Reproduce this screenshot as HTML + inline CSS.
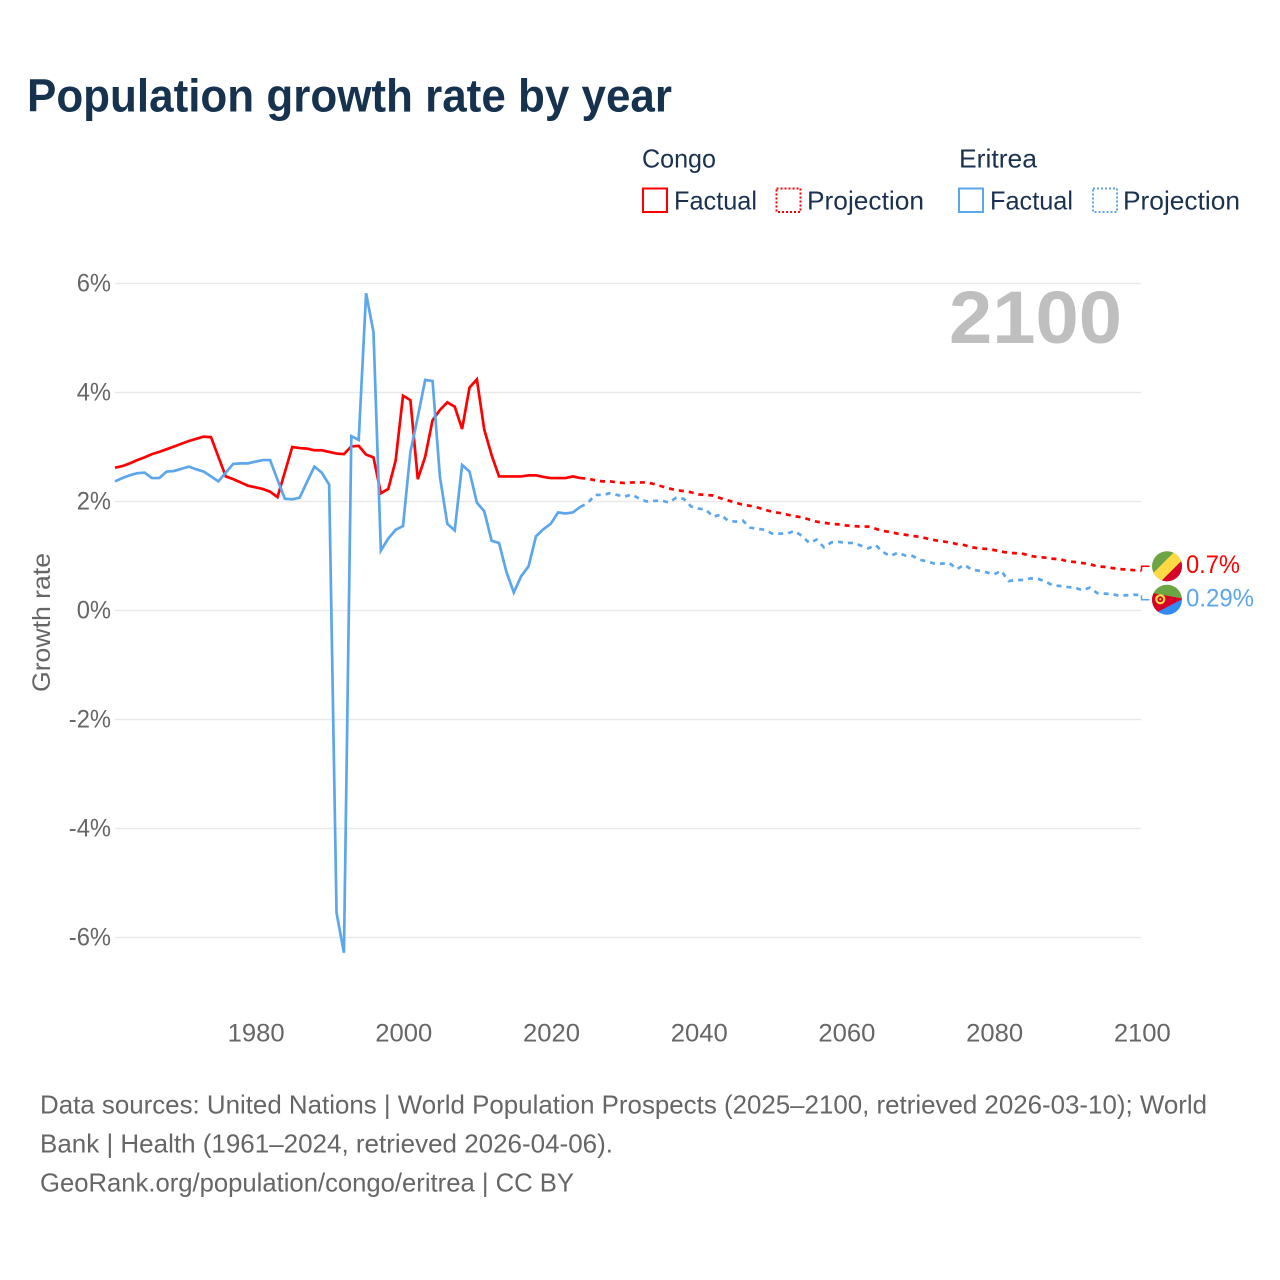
<!DOCTYPE html>
<html lang="en">
<head>
<meta charset="utf-8">
<title>Population growth rate by year</title>
<style>
html,body{margin:0;padding:0;background:#fff;}
svg{display:block;font-family:"Liberation Sans",sans-serif;}
</style>
</head>
<body>
<svg id="chart" xmlns="http://www.w3.org/2000/svg" width="1280" height="1280" viewBox="0 0 1280 1280">
  <rect width="1280" height="1280" fill="#ffffff"/>
  <text x="27" y="111.5" font-size="46" font-weight="700" fill="#17324f" textLength="645" lengthAdjust="spacingAndGlyphs">Population growth rate by year</text>

  <g font-size="26" fill="#1a3150">
    <text x="642" y="167.5" textLength="74" lengthAdjust="spacingAndGlyphs">Congo</text>
    <text x="959" y="167.5" textLength="78" lengthAdjust="spacingAndGlyphs">Eritrea</text>
    <g>
      <rect x="643" y="188.5" width="24" height="23.5" fill="none" stroke="#ff0000" stroke-width="2"/>
      <text x="674" y="209.5" textLength="83" lengthAdjust="spacingAndGlyphs">Factual</text>
    </g>
    <g>
      <rect x="776.5" y="188.5" width="24" height="23.5" fill="none" stroke="#ff0000" stroke-width="2" stroke-dasharray="2 2"/>
      <text x="807" y="209.5" textLength="117" lengthAdjust="spacingAndGlyphs">Projection</text>
    </g>
    <g>
      <rect x="959" y="188.5" width="24" height="23.5" fill="none" stroke="#5ca6ec" stroke-width="2"/>
      <text x="990" y="209.5" textLength="83" lengthAdjust="spacingAndGlyphs">Factual</text>
    </g>
    <g>
      <rect x="1093" y="188.5" width="24" height="23.5" fill="none" stroke="#5ca6ec" stroke-width="2" stroke-dasharray="2 2"/>
      <text x="1123" y="209.5" textLength="117" lengthAdjust="spacingAndGlyphs">Projection</text>
    </g>
  </g>

  <g id="grid"></g>
  <g id="yTicks"></g>
  <g id="xTicks"></g>
  <text transform="translate(50,622.5) rotate(-90)" text-anchor="middle" font-size="25" fill="#666666" textLength="139" lengthAdjust="spacingAndGlyphs">Growth rate</text>
  <text x="949" y="343" font-size="74" font-weight="700" fill="#bfbfbf" textLength="173" lengthAdjust="spacingAndGlyphs">2100</text>

  <g id="series"></g>

  <defs>
    <clipPath id="congoClip"><circle cx="0" cy="0" r="15"/></clipPath>
    <clipPath id="eritreaClip"><circle cx="0" cy="0" r="15"/></clipPath>
  </defs>
  <g id="congoFlag" clip-path="url(#congoClip)">
    <rect x="-16" y="-16" width="32" height="32" fill="#6da544"/>
    <polygon points="25,-16 25,25 -16,25" fill="#d80027"/>
    <polygon points="9,-16 25,-16 -16,25 -16,9" fill="#ffda44"/>
  </g>
  <g id="eritreaFlag" clip-path="url(#eritreaClip)">
    <rect x="-16" y="-16" width="32" height="16" fill="#6da544"/>
    <rect x="-16" y="0" width="32" height="16" fill="#338af3"/>
    <polygon points="-16,-7 16,-1 -9,12 -16,13" fill="#d80027"/>
    <circle cx="-6.7" cy="-0.5" r="4" fill="none" stroke="#ffda44" stroke-width="2.2"/>
    <circle cx="-6.7" cy="-0.5" r="1.1" fill="#ffda44"/>
  </g>
  <text id="congoLabel" x="1186" font-size="25" fill="#ff0000" textLength="54" lengthAdjust="spacingAndGlyphs">0.7%</text>
  <text id="eritreaLabel" x="1186" font-size="25" fill="#5ca6ec" textLength="68" lengthAdjust="spacingAndGlyphs">0.29%</text>

  <g font-size="26" fill="#666666">
    <text x="40" y="1113.5" textLength="1167" lengthAdjust="spacingAndGlyphs">Data sources: United Nations | World Population Prospects (2025–2100, retrieved 2026-03-10); World</text>
    <text x="40" y="1152.5" textLength="573" lengthAdjust="spacingAndGlyphs">Bank | Health (1961–2024, retrieved 2026-04-06).</text>
    <text x="40" y="1191.5" textLength="534" lengthAdjust="spacingAndGlyphs">GeoRank.org/population/congo/eritrea | CC BY</text>
  </g>
</svg>
<script>
const firstYear = 1961;
const lastFactualYear = 2024;
const yTickValues = [6, 4, 2, 0, -2, -4, -6];
const yTickLabels = ["6%", "4%", "2%", "0%", "-2%", "-4%", "-6%"];
const xTickYears = [1980, 2000, 2020, 2040, 2060, 2080, 2100];
const xTickLabels = ["1980", "2000", "2020", "2040", "2060", "2080", "2100"];

// Congo, 1961 to 2024
const congoFactual = [2.62,2.65,2.70,2.76,2.81,2.87,2.91,2.96,3.01,3.06,3.11,3.15,3.19,3.18,2.82,2.46,2.41,2.35,2.29,2.26,2.23,2.18,2.08,2.54,3.00,2.98,2.97,2.94,2.94,2.91,2.88,2.87,3.01,3.02,2.86,2.81,2.15,2.23,2.75,3.94,3.86,2.41,2.82,3.49,3.68,3.82,3.74,3.33,4.09,4.24,3.32,2.85,2.46,2.46,2.46,2.46,2.48,2.48,2.45,2.43,2.43,2.43,2.46,2.43];
// Congo, 2025 to 2100
const congoProjection = [2.42,2.39,2.37,2.37,2.35,2.34,2.35,2.35,2.35,2.32,2.28,2.24,2.21,2.19,2.17,2.13,2.12,2.11,2.06,2.02,1.98,1.94,1.92,1.89,1.85,1.81,1.79,1.76,1.73,1.71,1.67,1.63,1.61,1.59,1.58,1.56,1.55,1.54,1.54,1.50,1.46,1.44,1.41,1.39,1.37,1.35,1.32,1.29,1.27,1.25,1.22,1.20,1.16,1.14,1.13,1.11,1.08,1.06,1.05,1.04,1.00,0.98,0.97,0.95,0.94,0.90,0.89,0.87,0.85,0.81,0.80,0.78,0.76,0.75,0.74,0.73];
// Eritrea, 1961 to 2024
const eritreaFactual = [2.37,2.43,2.48,2.52,2.53,2.43,2.43,2.55,2.56,2.60,2.64,2.59,2.55,2.46,2.37,2.53,2.69,2.70,2.70,2.73,2.76,2.76,2.40,2.05,2.04,2.07,2.36,2.64,2.53,2.31,-5.55,-6.28,3.20,3.13,5.82,5.11,1.10,1.32,1.48,1.55,2.91,3.55,4.23,4.21,2.45,1.59,1.47,2.67,2.55,1.98,1.82,1.28,1.24,0.71,0.33,0.63,0.81,1.36,1.49,1.59,1.80,1.78,1.80,1.90];
// Eritrea, 2025 to 2100
const eritreaProjection = [1.97,2.12,2.12,2.15,2.12,2.09,2.13,2.05,2.00,2.01,2.02,1.98,2.07,2.05,1.91,1.87,1.85,1.72,1.76,1.65,1.63,1.65,1.52,1.50,1.48,1.41,1.41,1.41,1.46,1.37,1.24,1.30,1.16,1.25,1.26,1.24,1.24,1.19,1.14,1.20,1.07,1.00,1.06,1.01,1.00,0.93,0.90,0.86,0.86,0.87,0.76,0.84,0.75,0.73,0.70,0.66,0.73,0.54,0.56,0.56,0.59,0.58,0.53,0.46,0.45,0.43,0.42,0.37,0.42,0.32,0.31,0.30,0.27,0.28,0.29,0.28];

const NS = "http://www.w3.org/2000/svg";
const RED = "#ff0000";
const BLUE = "#5ca6ec";

function xScale(year) { return 115 + (year - firstYear) * 7.385; }
function yScale(value) { return 610.5 - value * 54.5; }

function factualPoints(values) {
  return values.map(function (v, i) {
    return xScale(firstYear + i).toFixed(2) + "," + yScale(v).toFixed(2);
  });
}
function projectionPoints(factual, projection) {
  const pts = [xScale(lastFactualYear).toFixed(2) + "," + yScale(factual[factual.length - 1]).toFixed(2)];
  projection.forEach(function (v, i) {
    pts.push(xScale(lastFactualYear + 1 + i).toFixed(2) + "," + yScale(v).toFixed(2));
  });
  return pts;
}

const gridGroup = document.getElementById("grid");
const yGroup = document.getElementById("yTicks");
yTickValues.forEach(function (v, i) {
  const line = document.createElementNS(NS, "line");
  
  
  line.setAttribute("x1", 115);
  line.setAttribute("x2", 1141);
  line.setAttribute("y1", yScale(v));
  line.setAttribute("y2", yScale(v));
  line.setAttribute("stroke", "#e9e9e9");
  line.setAttribute("stroke-width", "1.5");
  gridGroup.appendChild(line);

  const t = document.createElementNS(NS, "text");
  
  
  t.setAttribute("x", 111);
  t.setAttribute("y", yScale(v) + 8);
  t.setAttribute("text-anchor", "end");
  t.setAttribute("font-size", "25");
  t.setAttribute("fill", "#666666");
  t.textContent = yTickLabels[i];
  yGroup.appendChild(t);
  t.setAttribute("textLength", (t.getComputedTextLength() * 0.95).toFixed(1));
  t.setAttribute("lengthAdjust", "spacingAndGlyphs");
});

const xGroup = document.getElementById("xTicks");
xTickYears.forEach(function (year, i) {
  const t = document.createElementNS(NS, "text");
  
  
  t.setAttribute("x", xScale(year) + 0.8);
  t.setAttribute("y", 1041.5);
  t.setAttribute("text-anchor", "middle");
  t.setAttribute("font-size", "25");
  t.setAttribute("fill", "#666666");
  t.textContent = xTickLabels[i];
  xGroup.appendChild(t);
  t.setAttribute("textLength", (t.getComputedTextLength() * 1.025).toFixed(1));
  t.setAttribute("lengthAdjust", "spacingAndGlyphs");
});

const seriesGroup = document.getElementById("series");

const congoFactualLine = document.createElementNS(NS, "polyline");


congoFactualLine.setAttribute("points", factualPoints(congoFactual).join(" "));
congoFactualLine.setAttribute("fill", "none");
congoFactualLine.setAttribute("stroke", RED);
congoFactualLine.setAttribute("stroke-width", "2.7");
congoFactualLine.setAttribute("stroke-linejoin", "miter");
seriesGroup.appendChild(congoFactualLine);

const congoProjectionLine = document.createElementNS(NS, "polyline");


congoProjectionLine.setAttribute("points", projectionPoints(congoFactual, congoProjection).join(" "));
congoProjectionLine.setAttribute("fill", "none");
congoProjectionLine.setAttribute("stroke", RED);
congoProjectionLine.setAttribute("stroke-width", "2.7");
congoProjectionLine.setAttribute("stroke-dasharray", "5 5");
seriesGroup.appendChild(congoProjectionLine);

const eritreaFactualLine = document.createElementNS(NS, "polyline");


eritreaFactualLine.setAttribute("points", factualPoints(eritreaFactual).join(" "));
eritreaFactualLine.setAttribute("fill", "none");
eritreaFactualLine.setAttribute("stroke", BLUE);
eritreaFactualLine.setAttribute("stroke-width", "2.7");
eritreaFactualLine.setAttribute("stroke-linejoin", "miter");
seriesGroup.appendChild(eritreaFactualLine);

const eritreaProjectionLine = document.createElementNS(NS, "polyline");


eritreaProjectionLine.setAttribute("points", projectionPoints(eritreaFactual, eritreaProjection).join(" "));
eritreaProjectionLine.setAttribute("fill", "none");
eritreaProjectionLine.setAttribute("stroke", BLUE);
eritreaProjectionLine.setAttribute("stroke-width", "2.7");
eritreaProjectionLine.setAttribute("stroke-dasharray", "5 5");
seriesGroup.appendChild(eritreaProjectionLine);

// End labels follow the last projected values
const congoEndY = yScale(congoProjection[congoProjection.length - 1]);
const eritreaEndY = yScale(eritreaProjection[eritreaProjection.length - 1]);
const congoFlagY = congoEndY - 4.5;
const eritreaFlagY = eritreaEndY + 4.5;
const endX = xScale(2100);

const congoConnector = document.createElementNS(NS, "path");


congoConnector.setAttribute("d", "M" + endX + " " + congoEndY + "V" + congoFlagY + "H" + (endX + 8));
congoConnector.setAttribute("fill", "none");
congoConnector.setAttribute("stroke", RED);
congoConnector.setAttribute("stroke-width", "1.5");
seriesGroup.appendChild(congoConnector);

const eritreaConnector = document.createElementNS(NS, "path");


eritreaConnector.setAttribute("d", "M" + endX + " " + eritreaEndY + "V" + eritreaFlagY + "H" + (endX + 8));
eritreaConnector.setAttribute("fill", "none");
eritreaConnector.setAttribute("stroke", BLUE);
eritreaConnector.setAttribute("stroke-width", "1.5");
seriesGroup.appendChild(eritreaConnector);

document.getElementById("congoFlag").setAttribute("transform", "translate(1167," + congoFlagY + ")");
document.getElementById("eritreaFlag").setAttribute("transform", "translate(1167," + eritreaFlagY + ")");
document.getElementById("congoLabel").setAttribute("y", congoFlagY + 7);
document.getElementById("eritreaLabel").setAttribute("y", eritreaFlagY + 7);
</script>
</body>
</html>
